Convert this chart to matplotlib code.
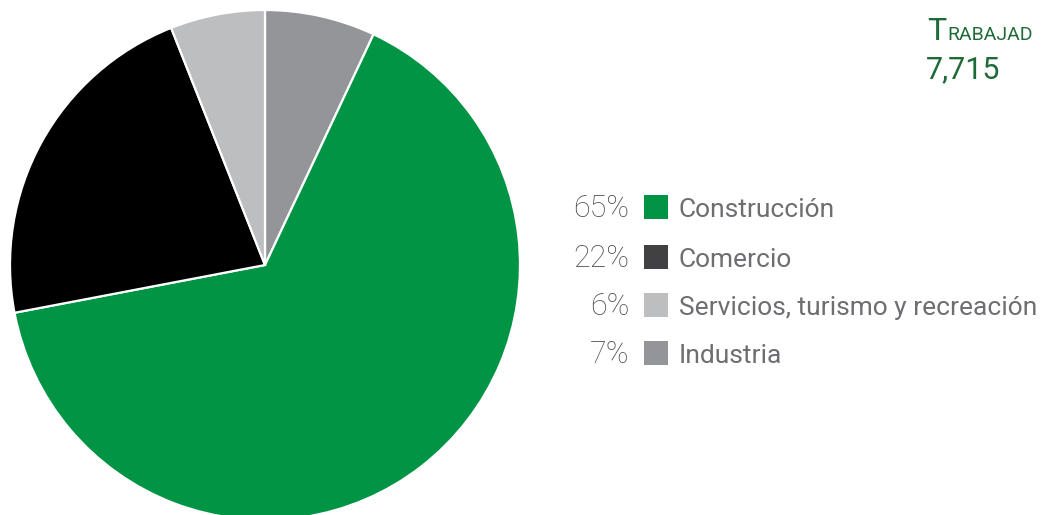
import matplotlib.pyplot as plt

# data
labels = ["Construcción", "Comercio", "Servicios, turismo y recreación", "Industria"]
values = [65, 22, 6, 7]
pcts = ["65%", "22%", "6%", "7%"]
pie_colors = ["#009444", "#000000", "#bcbec0", "#939598"]
legend_colors = ["#009444", "#414042", "#bcbec0", "#939598"]
title_first = "T"
title_rest = "RABAJAD"
total = "7,715"

W, H = 1041, 515
plt.rcParams['font.family'] = ['Roboto', 'DejaVu Sans']
fig = plt.figure(figsize=(W / 100, H / 100), dpi=100)

# pie axes placed in pixel space: center (265,265), radius 255
cx, cy, r = 265, 265, 255
ax = fig.add_axes([(cx - r) / W, (H - cy - r) / H, 2 * r / W, 2 * r / H])
# draw Industria first clockwise from top
order = [3, 0, 1, 2]
ax.pie([values[i] for i in order], colors=[pie_colors[i] for i in order],
       startangle=90, counterclock=False, radius=1,
       wedgeprops=dict(edgecolor="white", linewidth=1.6))
ax.set_xlim(-1, 1)
ax.set_ylim(-1, 1)
ax.set_aspect("equal")
ax.axis("off")

# legend drawn by hand
def px(x, y):
    return x / W, 1 - y / H

row_y = [207, 257, 305, 353]
for i, yy in enumerate(row_y):
    fig.text(*px(629, yy + 10), pcts[i], ha="right", va="baseline",
             fontsize=22, color="#4d4e50", fontweight="light")
    fig.patches.append(plt.Rectangle(px(644, yy + 12), 24 / W, 24 / H,
                                     transform=fig.transFigure,
                                     facecolor=legend_colors[i], edgecolor="none"))
    fig.text(*px(679, yy + 10), labels[i], ha="left", va="baseline",
             fontsize=19, color="#6d6e71")

# title in small caps
green = "#1f6b37"
t = fig.text(*px(927, 40), title_first, ha="left", va="baseline",
             fontsize=23, color=green)
fig.canvas.draw()
ext = t.get_window_extent(renderer=fig.canvas.get_renderer())
fig.text(ext.x1 / W + 1 / W, 1 - 40 / H, title_rest, ha="left", va="baseline",
         fontsize=14, color=green)
fig.text(*px(926, 78), total, ha="left", va="baseline",
         fontsize=22, color=green)

fig.savefig("out.png", dpi=100)
